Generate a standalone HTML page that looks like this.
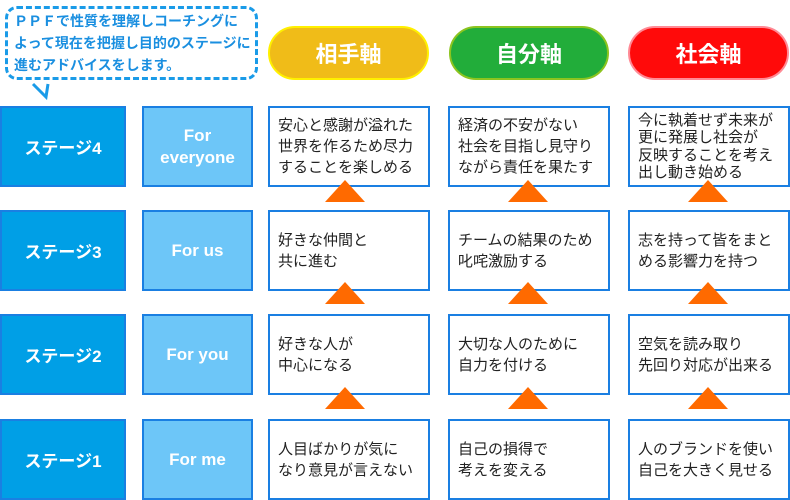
<!DOCTYPE html>
<html><head><meta charset="utf-8"><style>
body{margin:0;width:790px;height:500px;background:#fff;position:relative;overflow:hidden;font-family:"Liberation Sans","Noto Sans CJK JP",sans-serif}
.b{position:absolute;box-sizing:border-box;border:2px solid #1a7fe2;display:flex;align-items:center}
.st{left:0;width:126px;background:#009fe6;color:#fff;font-weight:bold;font-size:17px;justify-content:center}
.fo{left:142px;width:111px;background:#6dc6f8;color:#fff;font-weight:bold;font-size:17px;justify-content:center;text-align:center;line-height:22px}
.tx{width:162px;background:#fff;color:#222;font-size:15px;line-height:21px;padding-left:8px;white-space:nowrap}
.c1{left:268px}.c2{left:448px}.c3{left:628px}
.pill{position:absolute;top:26px;height:54px;box-sizing:border-box;border-radius:27px;color:#fff;font-weight:bold;font-size:22px;display:flex;align-items:center;justify-content:center;border:2px solid}
.tri{position:absolute;width:0;height:0;border-left:20px solid transparent;border-right:20px solid transparent;border-bottom:22px solid #ff6a00}
.bub{position:absolute;left:5px;top:6px;width:253px;height:74px;box-sizing:border-box;border:3px dashed #1a9be8;border-radius:12px;color:#1a8fe0;font-weight:bold;font-size:14px;line-height:22px;padding:1px 0 0 6px;white-space:nowrap}
</style></head><body>
<div class="bub">ＰＰＦで性質を理解しコーチングに<br>よって現在を把握し目的のステージに<br>進むアドバイスをします。</div>
<svg style="position:absolute;left:0;top:0" width="100" height="110"><polyline points="33,84 46,97 48,84" fill="none" stroke="#1a9be8" stroke-width="3"/></svg>
<div class="pill" style="left:268px;width:161px;background:#f0bc18;border-color:#fff000">相手軸</div>
<div class="pill" style="left:449px;width:160px;background:#22ad3a;border-color:#8cc41f">自分軸</div>
<div class="pill" style="left:628px;width:161px;background:#ff0a0a;border-color:#ff8a95">社会軸</div>

<div class="b st" style="top:106px;height:81px">ステージ4</div>
<div class="b fo" style="top:106px;height:81px">For<br>everyone</div>
<div class="b tx c1" style="top:106px;height:81px">安心と感謝が溢れた<br>世界を作るため尽力<br>することを楽しめる</div>
<div class="b tx c2" style="top:106px;height:81px">経済の不安がない<br>社会を目指し見守り<br>ながら責任を果たす</div>
<div class="b tx c3" style="top:106px;height:81px;line-height:17.5px">今に執着せず未来が<br>更に発展し社会が<br>反映することを考え<br>出し動き始める</div>

<div class="b st" style="top:210px;height:81px">ステージ3</div>
<div class="b fo" style="top:210px;height:81px">For us</div>
<div class="b tx c1" style="top:210px;height:81px">好きな仲間と<br>共に進む</div>
<div class="b tx c2" style="top:210px;height:81px">チームの結果のため<br>叱咤激励する</div>
<div class="b tx c3" style="top:210px;height:81px">志を持って皆をまと<br>める影響力を持つ</div>

<div class="b st" style="top:314px;height:81px">ステージ2</div>
<div class="b fo" style="top:314px;height:81px">For you</div>
<div class="b tx c1" style="top:314px;height:81px">好きな人が<br>中心になる</div>
<div class="b tx c2" style="top:314px;height:81px">大切な人のために<br>自力を付ける</div>
<div class="b tx c3" style="top:314px;height:81px">空気を読み取り<br>先回り対応が出来る</div>

<div class="b st" style="top:419px;height:81px">ステージ1</div>
<div class="b fo" style="top:419px;height:81px">For me</div>
<div class="b tx c1" style="top:419px;height:81px">人目ばかりが気に<br>なり意見が言えない</div>
<div class="b tx c2" style="top:419px;height:81px">自己の損得で<br>考えを変える</div>
<div class="b tx c3" style="top:419px;height:81px">人のブランドを使い<br>自己を大きく見せる</div>

<div class="tri" style="left:325px;top:180px"></div>
<div class="tri" style="left:508px;top:180px"></div>
<div class="tri" style="left:688px;top:180px"></div>
<div class="tri" style="left:325px;top:282px"></div>
<div class="tri" style="left:508px;top:282px"></div>
<div class="tri" style="left:688px;top:282px"></div>
<div class="tri" style="left:325px;top:387px"></div>
<div class="tri" style="left:508px;top:387px"></div>
<div class="tri" style="left:688px;top:387px"></div>
</body></html>
